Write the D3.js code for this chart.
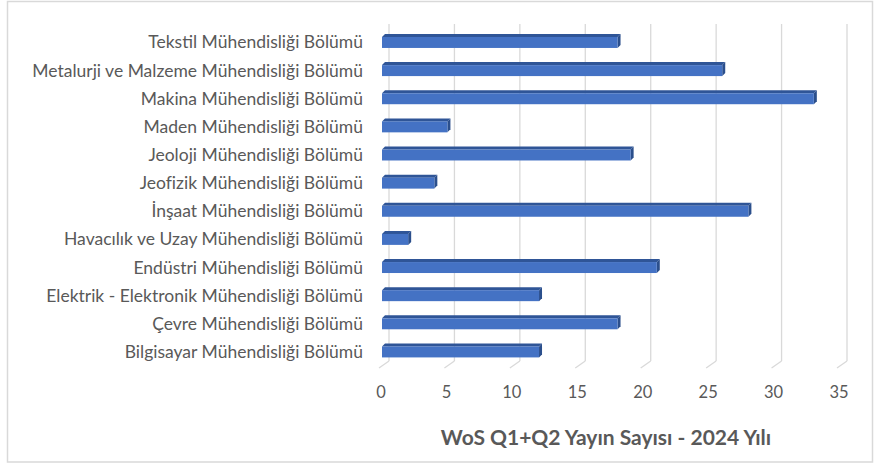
<!DOCTYPE html>
<html lang="tr">
<head>
<meta charset="UTF-8">
<title>WoS Q1+Q2 Yayın Sayısı - 2024 Yılı</title>
<script src="https://cdn.jsdelivr.net/npm/d3@7"></script>
<style>
  html, body { margin: 0; padding: 0; background: #fff; }
  svg { display: block; font-family: Lato, "Open Sans", sans-serif; }
</style>
</head>
<body>
<svg id="chart" width="874" height="465"></svg>
<script>
// data, top to bottom as in the chart
const departments = [
  "Tekstil Mühendisliği Bölümü",
  "Metalurji ve Malzeme Mühendisliği Bölümü",
  "Makina Mühendisliği Bölümü",
  "Maden Mühendisliği Bölümü",
  "Jeoloji Mühendisliği Bölümü",
  "Jeofizik Mühendisliği Bölümü",
  "İnşaat Mühendisliği Bölümü",
  "Havacılık ve Uzay Mühendisliği Bölümü",
  "Endüstri Mühendisliği Bölümü",
  "Elektrik - Elektronik Mühendisliği Bölümü",
  "Çevre Mühendisliği Bölümü",
  "Bilgisayar Mühendisliği Bölümü"
];
const counts = [18, 26, 33, 5, 19, 4, 28, 2, 21, 12, 18, 12];
const xTicks = [0, 5, 10, 15, 20, 25, 30, 35];
const title = "WoS Q1+Q2 Yayın Sayısı - 2024 Yılı";

const data = departments.map((d, i) => ({ name: d, value: counts[i] }));

const svg = d3.select("#chart");

// outer frame
svg.append("rect")
  .attr("x", 7.5).attr("y", 1.5)
  .attr("width", 865).attr("height", 460.5)
  .attr("fill", "#fff")
  .attr("stroke", "#d9d9d9").attr("stroke-width", 1.5);

// front plane scale (bars), back wall is shifted a bit right
const x = d3.scaleLinear().domain([0, 35]).range([382, 840]);
const y = d3.scaleBand().domain(departments).range([28.4, 366])
  .paddingInner(0.61).paddingOuter(0.305);

const backDx = 7, gridTop = 24, gridBottom = 361;
const floorDx = -10, floorDy = 7;

// gridlines on the back wall + floor diagonals
const grid = svg.append("g");
grid.selectAll("line.g").data(xTicks).join("line")
  .attr("x1", d => x(d) + backDx).attr("x2", d => x(d) + backDx)
  .attr("y1", gridTop).attr("y2", gridBottom)
  .attr("stroke", "#d9d9d9").attr("stroke-width", 1.3);
grid.selectAll("line.f").data(xTicks).join("line")
  .attr("x1", d => x(d) + backDx).attr("y1", gridBottom)
  .attr("x2", d => x(d) + backDx + floorDx).attr("y2", gridBottom + floorDy)
  .attr("stroke", "#d9d9d9").attr("stroke-width", 1.3);

// tick labels
svg.append("g").selectAll("text").data(xTicks).join("text")
  .attr("x", d => x(d) - 1)
  .attr("y", 398)
  .attr("text-anchor", "middle")
  .attr("font-size", 16.5)
  .attr("fill", "#595959")
  .text(d => d);

// category labels
svg.append("g").selectAll("text").data(departments).join("text")
  .attr("x", 363)
  .attr("y", d => y(d) + y.bandwidth() / 2 + 6)
  .attr("text-anchor", "end")
  .attr("font-size", 17.5)
  .attr("fill", "#595959")
  .text(d => d);

// 3D bars: front, top, side
const dx = 3, dy = 3;
const bars = svg.append("g").selectAll("g").data(data).join("g");
bars.append("path")
  .attr("fill", "#2f5597")
  .attr("d", d => {
    const x0 = x(0), x1 = x(d.value), yt = y(d.name);
    return `M${x0},${yt}L${x0 + dx},${yt - dy}L${x1 + dx},${yt - dy}L${x1},${yt}Z`;
  });
bars.append("path")
  .attr("fill", "#2b4f8c")
  .attr("d", d => {
    const x1 = x(d.value), yt = y(d.name), yb = yt + y.bandwidth();
    return `M${x1},${yt}L${x1 + dx},${yt - dy}L${x1 + dx},${yb - dy}L${x1},${yb}Z`;
  });
bars.append("rect")
  .attr("x", x(0))
  .attr("y", d => y(d.name))
  .attr("width", d => x(d.value) - x(0))
  .attr("height", y.bandwidth())
  .attr("fill", "#4472c4");

// axis title
svg.append("text")
  .attr("x", 606).attr("y", 445)
  .attr("text-anchor", "middle")
  .attr("font-size", 21)
  .attr("font-weight", "bold")
  .attr("fill", "#595959")
  .text(title);
</script>
</body>
</html>
